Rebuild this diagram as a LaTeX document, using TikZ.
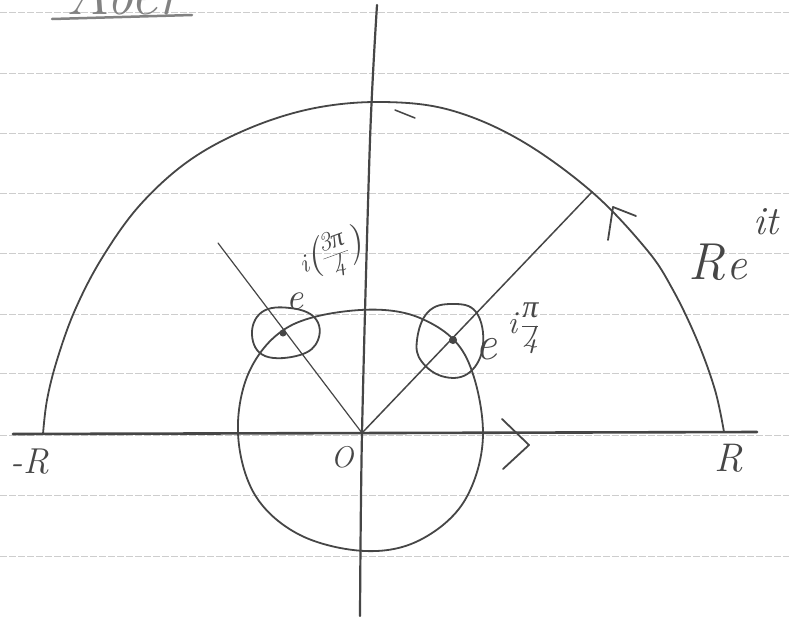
\documentclass[tikz,border=0pt]{standalone}
\usepackage{fontspec}
\newfontfamily\grk{Liberation Serif}
\definecolor{pencil}{RGB}{70,70,70}
\definecolor{rulecol}{RGB}{205,205,205}
\definecolor{titlecol}{RGB}{130,130,130}
\newcommand{\fsz}[1]{\fontsize{#1}{#1}\selectfont}
\newcommand{\myfrac}[2]{$\vcenter{\hbox{\setlength{\tabcolsep}{0pt}\renewcommand{\arraystretch}{0.85}\begin{tabular}{c}#1\\\hline #2\end{tabular}}}$}
\begin{document}
\begin{tikzpicture}[x=1pt,y=-1pt,
  stroke/.style={draw=pencil,line width=1.8pt,line cap=round,line join=round},
  axisline/.style={draw=pencil,line width=2.6pt,line cap=round},
  ruling/.style={draw=rulecol,line width=0.8pt,dash pattern=on 7pt off 2pt},
  lbl/.style={text=pencil,inner sep=0pt,font=\itshape},
  pole/.style={fill=pencil,draw=pencil,line width=1pt}]
\useasboundingbox[fill=white] (0,0) rectangle (789,616);
\clip (0,0) rectangle (789,616);
% lined paper
\foreach \yy in {12,73,133,193,253,314,373,435,495,556}{\draw[ruling] (0,\yy) -- (789,\yy);}
% title (cut off at the top)
\node[anchor=base west,inner sep=0pt,text=titlecol] (title) at (66,14) {\fsz{60}\itshape Aber};
\coordinate (ul1) at (52,19); \coordinate (ul2) at (192,15);
\draw[draw=titlecol,line width=2.5pt,line cap=round] (ul1) -- (ul2);
% key points
\coordinate (O) at (362,433);
\coordinate (xl) at (13,434); \coordinate (xr) at (757,432);
\coordinate (A) at (592,192); \coordinate (B) at (218,243);
\coordinate (P1) at (453,340); \coordinate (P2) at (283,333);
% axes
\draw[axisline] (xl) -- (xr);
\draw[stroke,line width=2.2pt] plot[smooth] coordinates {(377,5) (370,140) (362,433) (360,616)};
% big half circle
\draw[stroke] plot[smooth,tension=0.6] coordinates {(43,434) (47,400) (57,360) (75,310) (102,258) (140,205) (190,160) (250,128) (315,108) (383,102) (450,110) (520,140) (592,192) (647,250) (673,290) (697,340) (715,390) (724,432)};
% small circle around the origin
\draw[stroke] plot[smooth cycle,tension=0.6] coordinates {(238,433) (250,370) (290,326) (360,310) (420,318) (465,355) (483,433) (465,500) (420,540) (365,551) (300,535) (255,495)};
% rays
\draw[stroke,line width=1.5pt] (O) -- (A);
\draw[stroke,line width=1.2pt] (O) -- (B);
% poles and small circles
\draw[stroke] plot[smooth cycle,tension=0.7] coordinates {(252,335) (262,312) (290,308) (315,318) (318,340) (300,355) (265,356)};
\draw[stroke] plot[smooth cycle,tension=0.7] coordinates {(417,340) (428,312) (452,304) (476,312) (483,345) (470,372) (445,377) (422,362)};
\fill[pole] (P1) circle (3.5);
\fill[pole] (P2) circle (3);
% direction marks
\coordinate (c1) at (502,419); \coordinate (c2) at (529,445); \coordinate (c3) at (503,469);
\draw[stroke] (c1) -- (c2) -- (c3);
\coordinate (d1) at (608,240); \coordinate (d2) at (613,207); \coordinate (d3) at (636,216);
\draw[stroke] (d1) -- (d2) -- (d3);
\coordinate (t1) at (395,110); \coordinate (t2) at (415,118);
\draw[stroke,line width=1.5pt] (t1) -- (t2);
% labels
\node[lbl] (mR) at (30,462) {\fsz{36}-R};
\node[lbl] (lO) at (342,457) {\fsz{30}O};
\node[lbl] (pR) at (729,458) {\fsz{40}R};
\node[lbl] (e1) at (486,349) {\fsz{48}e};
\node[lbl] (x1) at (523,327) {\fsz{32}i\,\myfrac{\grk\itshape π}{4}};
\node[lbl] (e2) at (295,301) {\fsz{38}e};
\node[lbl,rotate=20] (x2) at (332,256) {\fsz{26}i{\fsz{40}(}\myfrac{3{\grk\itshape π}}{4}{\fsz{40})}};
\node[lbl] (RR) at (707,262) {\fsz{52}R};
\node[lbl] (ee) at (737,270) {\fsz{46}e};
\node[lbl] (it) at (766,222) {\fsz{40}it};
\end{tikzpicture}
\end{document}
